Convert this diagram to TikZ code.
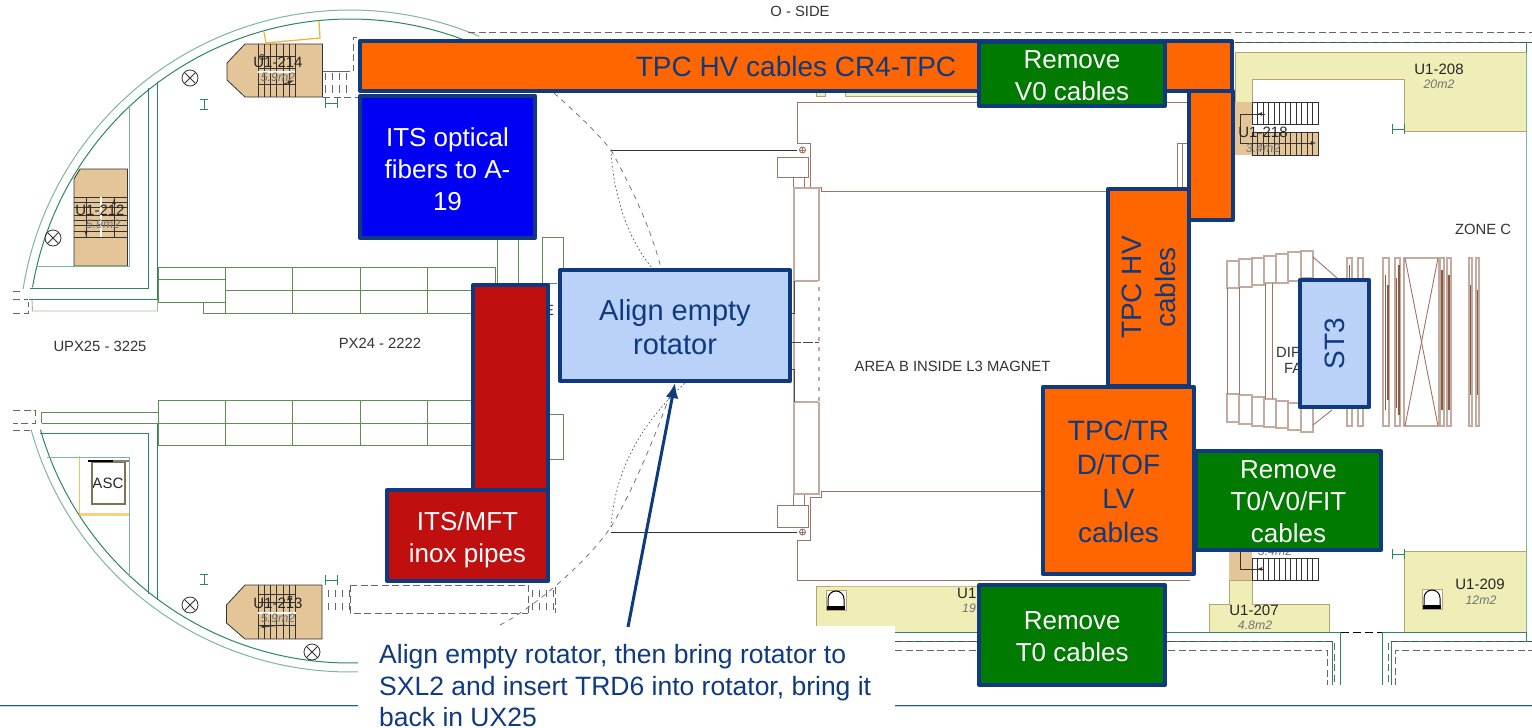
\documentclass[tikz,border=0pt]{standalone}
\usepackage{fontspec}
\usetikzlibrary{arrows.meta}
\setmainfont{Liberation Sans}
\definecolor{navy}{HTML}{0F3A80}
\definecolor{cableorange}{HTML}{FF6600}
\definecolor{removegreen}{HTML}{007A00}
\definecolor{pipered}{HTML}{C00F0F}
\definecolor{fibreblue}{HTML}{0000F5}
\definecolor{paleblue}{HTML}{BAD2F7}
\definecolor{roomyellow}{HTML}{EFEEB6}
\definecolor{roomedge}{HTML}{B5A573}
\definecolor{stairtan}{HTML}{E3C598}
\definecolor{walldark}{HTML}{2B8566}
\definecolor{wallpale}{HTML}{7DB5A0}
\definecolor{corridorgreen}{HTML}{5F8F50}
\definecolor{magnetbrown}{HTML}{9C7565}
\definecolor{magnetpale}{HTML}{C3ABA0}
\definecolor{stripebrown}{HTML}{8B5A40}
\definecolor{doororange}{HTML}{F7B02E}
\newcommand{\lowline}[1]{\rule{0pt}{#1}}
\tikzset{
  taskbox/.style={draw=navy,line width=4pt,line join=round,inner sep=0pt,align=center,
    font=\fontsize{26}{32}\selectfont},
  bigtext/.style={font=\fontsize{28}{34}\selectfont},
  planlabel/.style={inner sep=0pt,font=\fontsize{14.8}{16}\selectfont,text=black!80},
  roomlabel/.style={inner sep=0pt,font=\fontsize{15}{17}\selectfont,text=black!85},
  arealabel/.style={inner sep=0pt,font=\fontsize{12.3}{14}\itshape\selectfont,text=black!55},
  wall/.style={draw=walldark,line width=1pt},
  softwall/.style={draw=wallpale,line width=1pt},
  corridor/.style={draw=corridorgreen,line width=0.9pt},
  magnet/.style={draw=magnetbrown,line width=0.9pt},
  softmagnet/.style={draw=magnetpale,line width=1.2pt},
  stairline/.style={draw=black!80,line width=0.8pt},
  room/.style={draw=roomedge,fill=roomyellow,line width=1pt},
  planwalk/.style={draw=black!60,line width=0.9pt,dash pattern=on 7pt off 3.5pt},
  trace/.style={draw=black!60,line width=0.7pt,dash pattern=on 5pt off 5pt},
  dottrace/.style={draw=black!70,line width=0.7pt,dash pattern=on 1.5pt off 2.5pt},
  beam/.style={draw=walldark,line width=0.9pt}
}
\begin{document}
\begin{tikzpicture}[x=1pt,y=-1pt]
  \useasboundingbox (0,0) rectangle (1532,728);

  \draw[room] (1235,52) -- (1526,52) -- (1526,131) -- (1404,131) -- (1404,79) -- (1252,79) -- (1252,102) -- (1235,102) -- cycle;
  \draw[room] (1229,580) -- (1252,580) -- (1252,604) -- (1329,604) -- (1329,632) -- (1209,632) -- (1209,604) -- (1229,604) -- cycle;
  \draw[room] (1404,551) rectangle (1526,632);
  \draw[room] (816,632) -- (816,586) -- (845,586) -- (845,586) -- (1100,586) -- (1100,632) -- cycle;
  \draw[room] (816,80) rectangle (825,96);
  \draw[room] (845,80) rectangle (1100,96);

  \fill[stairtan] (1235,102) rectangle (1252,155);
  \fill[stairtan] (1252,132) rectangle (1318,155);
  \fill[stairtan] (1229,552) rectangle (1252,580);
  \foreach \y/\h in {102/124,132/155,558/580} {
    \draw[stairline] (1252,\y) rectangle (1318,\h);
    \foreach \x in {1,...,11}
      \draw[stairline] ({1252+5.5*\x},\y) -- ({1252+5.5*\x},\h);
  }
  \draw[stairline] (1260,114) -- (1240,114) -- (1240,143) -- (1313,143);
  \draw[stairline] (1240,552) -- (1240,569) -- (1262,569);
  \draw[stairline,-latex] (1265,114) -- (1257,114);
  \draw[stairline,-latex] (1262,569) -- (1257,569);
  \draw[stairline,-latex] (1305,143) -- (1316,143);

  \draw[stairline,fill=stairtan] (245,44) -- (322.5,44) -- (322.5,97) -- (245,97) -- (227,80) -- (227,63) -- cycle;
  \draw[stairline,fill=stairtan] (245,585) -- (322,585) -- (322,639) -- (245,639) -- (226.5,623) -- (226.5,605) -- cycle;
  \draw[stairline,fill=stairtan] (74,179) -- (80,169) -- (127.5,169) -- (127.5,266) -- (74,266) -- cycle;
  \foreach \x in {258,264,270,276,283,289,295} {
    \draw[stairline] (\x,44) -- (\x,97);
    \draw[stairline] (\x,585) -- (\x,639);
  }
  \foreach \y in {56,68,84}
    \draw[stairline] (258,\y) -- (295,\y);
  \foreach \y in {594,602,613,625}
    \draw[stairline] (258,\y) -- (296,\y);
  \fill[white] (258,71) rectangle (295,73);
  \fill[white] (258,612) rectangle (296,614);
  \foreach \y in {197,202,207,215,220,225,231,237}
    \draw[stairline] (74,\y) -- (127.5,\y);
  \foreach \x in {86,114}
    \draw[stairline] (\x,197) -- (\x,237);
  \fill[white] (100,197) rectangle (102,237);
  \draw[stairline,-latex] (114,208) -- (114,199);
  \draw[stairline,-latex] (86,224) -- (86,236);
  \draw[stairline,-latex] (284,84) -- (293,81);
  \draw[stairline,-latex] (285,625) -- (260,627);
  \draw[stairline] (262,57) circle (2.5pt);
  \draw[stairline] (290,598) circle (2pt);

  \node[roomlabel] (labela) at (278,62) {U1-214};
  \node[arealabel] (labelb) at (278,77) {5.9m2};
  \node[roomlabel] (labelc) at (100,210) {U1-212};
  \node[arealabel] (labeld) at (103,224) {5.9m2};
  \node[roomlabel] (labele) at (278,603) {U1-213};
  \node[arealabel] (labelf) at (278,618) {5.9m2};
  \node[roomlabel] (labelg) at (1263,132) {U1-218};
  \node[arealabel] (labelh) at (1263,148) {3.4m2};
  \node[arealabel] (labeli) at (1275,551) {3.4m2};
  \node[roomlabel] (labelj) at (1439,69) {U1-208};
  \node[arealabel] (labelk) at (1439,84) {20m2};
  \node[roomlabel] (labell) at (1254,610) {U1-207};
  \node[arealabel] (labelm) at (1255,625) {4.8m2};
  \node[roomlabel] (labeln) at (1480,584) {U1-209};
  \node[arealabel] (labelo) at (1481,600) {12m2};
  \node[roomlabel,anchor=west] (labelp) at (957,593) {U1};
  \node[arealabel,anchor=west] (labelq) at (962,608) {19};
  \node[planlabel] (oside) at (800,11) {O - SIDE};
  \node[planlabel] (zonec) at (1483,229) {ZONE C};
  \node[planlabel] (upx) at (100,346) {UPX25 - 3225};
  \node[planlabel] (pxtwo) at (380,343) {PX24 - 2222};
  \node[planlabel] (areab) at (952.5,366) {AREA B INSIDE L3 MAGNET};
  \node[planlabel,anchor=west] (dipa) at (1276,352) {DIP};
  \node[planlabel,anchor=west] (dipb) at (1284,368) {FA};
  \node[planlabel] (etick) at (549,310) {E};
  \node[roomlabel,inner sep=0pt] (asc) at (110,483) {ASC.};

  \foreach \x/\y in {1422/589,826/590} {
    \draw[roomedge,fill=white] (\x,\y) rectangle ++(20,20);
    \draw[black,line width=1pt,fill=white] ({\x+2},{\y+16}) -- ({\x+2},{\y+9}) arc[start angle=180,end angle=0,radius=8pt] -- ({\x+18},{\y+16});
    \fill[black] ({\x+1},{\y+16}) rectangle ({\x+19},{\y+20});
  }

  \draw[softwall] (350,341) ++(171:331pt) arc[start angle=171,end angle=67,radius=331pt];
  \draw[wall] (350,341) ++(170.4:322pt) arc[start angle=170.4,end angle=68.7,radius=322pt];
  \draw[softwall] (350,341) ++(195.5:331pt) arc[start angle=195.5,end angle=271.4,radius=331pt];
  \draw[wall] (350,341) ++(196:322pt) arc[start angle=196,end angle=271.4,radius=322pt];

  \draw[wall] (148,88) -- (148,288) -- (30,288);
  \draw[wall] (157.5,82) -- (157.5,299) -- (29,299);
  \draw[softwall] (129,105) -- (129,266) -- (36,266);
  \draw[corridor,opacity=.6] (32,300) -- (32.5,311) -- (157.5,311) -- (157.5,299);
  \draw[wall] (41.5,423) -- (157.5,423) -- (157.5,600);
  \draw[wall] (39.5,433) -- (148,433) -- (148,594);
  \draw[softwall] (47,457) -- (129,457) -- (129,577);
  \draw[doororange,line width=1.2pt] (264,32) -- (266,43) -- (320,38) -- (319,21);
  \draw[doororange,opacity=.8] (79,456) -- (79,514);
  \draw[doororange,opacity=.6,line width=3pt] (79,514) -- (129,514);
  \draw[roomedge!70!black,line width=1.2pt] (92,462) rectangle (125,504);
  \draw[black,line width=2pt] (88,461) -- (113,461);
  \draw[black!50,line width=2pt] (113,461) -- (129,461);

  \foreach \x/\y in {190/78,53/238,190/605,312/652} {
    \draw[black!80,line width=0.8pt] (\x,\y) circle (8pt);
    \draw[black!80,line width=0.8pt] ({\x-5.6},{\y-5.6}) -- ({\x+5.6},{\y+5.6});
    \draw[black!80,line width=0.8pt] ({\x-5.6},{\y+5.6}) -- ({\x+5.6},{\y-5.6});
  }
  \foreach \x/\y in {204/104,204/579} {
    \draw[beam] (\x,{\y-5}) -- (\x,{\y+5});
    \draw[beam] ({\x-4},{\y-5}) -- ({\x+4},{\y-5});
    \draw[beam] ({\x-4},{\y+5}) -- ({\x+4},{\y+5});
  }
  \foreach \x/\y in {331/103,331/580,1398/129,1398/554} {
    \draw[beam] ({\x-6},\y) -- ({\x+6},\y);
    \draw[beam] ({\x-6},{\y-5}) -- ({\x-6},{\y+5});
    \draw[beam] ({\x+6},{\y-5}) -- ({\x+6},{\y+5});
  }

  \draw[corridor] (495,283) -- (495,267) -- (158,267) -- (158,302) -- (225,302);
  \draw[corridor] (158,279) -- (225,279);
  \draw[corridor] (203,302) -- (203,313) -- (471,313);
  \draw[corridor] (225,290) -- (471,290);
  \foreach \x in {225,292.5,360,427.5} {
    \draw[corridor] (\x,267) -- (\x,313);
    \draw[corridor] (\x,400) -- (\x,445);
  }
  \draw[corridor] (497,240) -- (497,283);
  \draw[corridor] (518.5,240) -- (518.5,283);
  \draw[corridor] (542,237) -- (542,283) -- (557,283);
  \draw[corridor] (542,237) -- (563,237) -- (563,282);
  \draw[corridor] (41.5,423) -- (41.5,412) -- (158,412);
  \draw[corridor] (158,400) rectangle (472,445);
  \draw[corridor] (41.5,423) -- (472,423);
  \draw[corridor] (549,414) -- (563,414) -- (563,459) -- (549,459);

  \draw[magnet] (1187,102) -- (797,102) -- (797,143) -- (810,143) -- (810,187) -- (821.5,187) -- (821.5,191) -- (1107,191);
  \draw[magnet] (1042,491) -- (821.5,491) -- (821.5,497) -- (810,497) -- (810,540) -- (797,540) -- (797,580) -- (1189.5,580);
  \draw[magnet,fill=white] (777,157) rectangle (808,177);
  \draw[magnet,fill=white] (777,505) rectangle (808,527);
  \draw[magnet] (793.5,177) rectangle (804,188);
  \draw[magnet] (793.5,494) rectangle (804,505);
  \draw[softmagnet] (794,188) rectangle (819,494);
  \draw[softmagnet] (794,281) -- (819,281);
  \draw[softmagnet] (794,402) -- (819,402);
  \draw[white,line width=1.2pt,dash pattern=on 6pt off 4pt] (819,281) -- (819,402);
  \draw[black!70,line width=0.9pt] (794,281) -- (794,313) -- (791,313);
  \draw[black!70,line width=0.9pt] (794,402) -- (794,369) -- (791,369);
  \draw[black!70,line width=0.9pt,dash pattern=on 10pt off 2pt] (791,342) -- (819,342);
  \foreach \y in {150,532} {
    \draw[magnet] (802.5,\y) circle (3pt);
    \draw[magnet,line width=0.5pt] (799.5,\y) -- (805.5,\y);
    \draw[magnet,line width=0.5pt] (802.5,{\y-3}) -- (802.5,{\y+3});
    \draw[black!80,line width=0.9pt] (611,\y) -- (797,\y);
  }
  \draw[magnet] (1177,143) rectangle (1189,189);
  \draw[magnet] (1182,143) -- (1182,189);

  \foreach \a/\b/\c/\d in {1227/1239/261/288,1239/1252/259/287,1252/1264/258/285,1264/1276/256/283,1276/1288/254/283,1288/1301/252/281,1301/1313/251/278,
    1227/1239/394/422,1239/1252/395/424,1252/1264/397/426,1264/1276/399/427,1276/1288/401/428,1288/1301/403/430,1301/1313/403/432}
    \draw[softmagnet] (\a,\c) rectangle (\b,\d);
  \draw[magnet] (1227,288) -- (1227,394);
  \draw[magnet] (1239,287) -- (1239,395);
  \draw[magnet] (1265,283) -- (1265,399);
  \draw[magnet] (1272,283) -- (1272,399);
  \draw[magnet] (1313,257) -- (1337,278);
  \draw[magnet] (1313,425) -- (1332,410);
  \foreach \a/\b in {1347/1352,1358/1363,1383/1389,1395/1400,1440/1444,1447/1451,1469/1472,1476/1479}
    \draw[softmagnet] (\a,258) rectangle (\b,426);
  \draw[softmagnet] (1404,258) rectangle (1439,426);
  \draw[magnet] (1405,258) -- (1438,426);
  \draw[magnet] (1438,258) -- (1405,426);
  \foreach \x/\a/\b in {1349.5/265/285,1385.5/275/410,1388/285/400,1396.5/278/408,1399/265/415,1442/270/410,1449/275/410,1470.5/285/395,1477.5/290/395}
    \draw[stripebrown,line width=1.8pt] (\x,\a) -- (\x,\b);

  \draw[planwalk] (468,32.5) -- (1532,32.5);
  \draw[planwalk] (357,37) -- (353,37) -- (353,71);
  \draw[planwalk] (323,97) -- (358,97);
  \draw[planwalk] (350,585) -- (528,585);
  \draw[planwalk] (350,585) -- (350,613) -- (528,613);
  \draw[planwalk] (528,585) -- (528,613);
  \draw[planwalk] (555,587) -- (555,613);
  \foreach \x in {325,332,339,346} {
    \draw[stairline,black!60] (\x,73) -- (\x,80);
    \draw[stairline,black!60] (\x,85) -- (\x,93);
    \draw[stairline,black!60] ({\x+3},590) -- ({\x+3},597);
    \draw[stairline,black!60] ({\x+3},603) -- ({\x+3},610);
    \draw[stairline,black!60] ({\x+207},590) -- ({\x+207},597);
    \draw[stairline,black!60] ({\x+207},603) -- ({\x+207},610);
  }
  \draw[stairline,black!60] (323,71) -- (350,71);
  \draw[planwalk] (13,291) -- (21,291);
  \draw[planwalk] (13,299) -- (28,299);
  \draw[planwalk] (13,313) -- (28,313) -- (28,302);
  \draw[planwalk] (13,410) -- (35,410) -- (35,423) -- (13,423);
  \draw[planwalk] (13,430) -- (30,430);

  \draw[trace] (500,625) .. controls (530,610) and (585,565) .. (611,527);
  \draw[trace] (611,527) .. controls (630,495) and (650,450) .. (670,395);
  \draw[dottrace] (611,527) .. controls (615,470) and (640,425) .. (685,383);
  \draw[trace] (554,93) .. controls (575,112) and (595,130) .. (611,150);
  \draw[trace] (611,150) .. controls (630,185) and (650,225) .. (661,268);
  \draw[dottrace] (611,150) .. controls (613,190) and (625,235) .. (652,268);

  \draw[wall] (895,632) -- (1340.5,632) -- (1340.5,685);
  \draw[wall] (1382,685) -- (1382,632) -- (1526,632);
  \draw[softwall] (1526,632) -- (1526,52);
  \draw[wall] (1526,632) -- (1526,641);
  \draw[wall] (1526,42) -- (1526,52);
  \draw[wall] (1235,42) -- (1532,42);
  \draw[black!70,line width=1pt,dash pattern=on 7pt off 3.5pt] (1235,42) -- (1532,42);
  \draw[black,line width=1pt,dash pattern=on 8pt off 4pt] (1341,632) -- (1382,632);
  \draw[wall] (895,641) -- (1332,641) -- (1332,685);
  \draw[wall] (1391,685) -- (1391,641) -- (1532,641);
  \draw[black!70,line width=1pt,dash pattern=on 7pt off 3.5pt] (895,641) -- (1332,641);
  \draw[black!70,line width=1pt,dash pattern=on 7pt off 3.5pt] (1391,641) -- (1532,641);
  \draw[planwalk] (895,650) -- (1327,650) -- (1327,685);
  \draw[planwalk] (1395,685) -- (1395,650) -- (1532,650);
  \draw[planwalk] (1334,643) -- (1334,685);
  \draw[planwalk] (1388,643) -- (1388,685);

  \draw[navy!85,line width=1.2pt] (0,705.5) -- (1532,705.5);
  \draw[paleblue,line width=1pt] (0,706.5) -- (1532,706.5);

  \node[taskbox,fill=cableorange,text=navy,bigtext,minimum width=872,minimum height=50] (tpctop) at (796,66) {TPC HV cables CR4-TPC};
  \node[taskbox,fill=cableorange,minimum width=44,minimum height=129] (tpcdrop) at (1211,155.5) {};
  \node[taskbox,fill=cableorange,text=navy,rotate=90,minimum width=197,minimum height=81,font=\fontsize{28}{34}\selectfont] (tpchv) at (1148.5,287.5) {\lowline{21.2pt}TPC HV\\cables};
  \node[taskbox,fill=cableorange,text=navy,bigtext,minimum width=151,minimum height=187] (tpclv) at (1118.5,480.5) {\lowline{22.2pt}TPC/TR\\D/TOF\\LV\\cables};
  \node[taskbox,fill=removegreen,text=white,minimum width=186,minimum height=64] (vzero) at (1072,74) {\lowline{20.7pt}Remove\\V0 cables};
  \node[taskbox,fill=removegreen,text=white,minimum width=185,minimum height=99] (tfit) at (1288.5,500.5) {\lowline{20.7pt}Remove\\T0/V0/FIT\\cables};
  \node[taskbox,fill=removegreen,text=white,minimum width=185.5,minimum height=100] (tzero) at (1072.2,635) {\lowline{20.7pt}Remove\\T0 cables};
  \node[taskbox,fill=fibreblue,text=white,minimum width=175,minimum height=142] (itsfibers) at (447.5,167) {\lowline{23pt}ITS optical\\fibers to A-\\19};
  \node[taskbox,fill=pipered,minimum width=75,minimum height=205] (inoxbar) at (510.5,387.5) {};
  \node[taskbox,fill=pipered,text=white,minimum width=161,minimum height=91] (inoxbox) at (467.5,535.5) {\lowline{26.7pt}ITS/MFT\\inox pipes};
  \node[taskbox,fill=paleblue,text=navy,minimum width=230,minimum height=111,font=\fontsize{29}{34}\selectfont] (alignbox) at (675,325.5) {\lowline{25pt}Align empty\\rotator};
  \node[taskbox,fill=paleblue,text=navy,bigtext,rotate=90,minimum width=127,minimum height=69.5] (stthree) at (1334.5,343.5) {ST3};

  \node[fill=white,inner sep=0pt,anchor=north west,minimum width=537,minimum height=102] (calloutbg) at (358,626) {};
  \node[inner sep=0pt,anchor=north west,align=left,text=navy,text depth=0pt,font=\fontsize{26.5}{31.5}\selectfont] (callout) at (379,644.25) {Align empty rotator, then bring rotator to\\SXL2 and insert TRD6 into rotator, bring it\\back in UX25};
  \coordinate (arrowstart) at (628,627);
  \draw[-{Latex[length=15pt,width=13pt]},navy,line width=3pt] (arrowstart) -- (alignbox.south);
\end{tikzpicture}
\end{document}
